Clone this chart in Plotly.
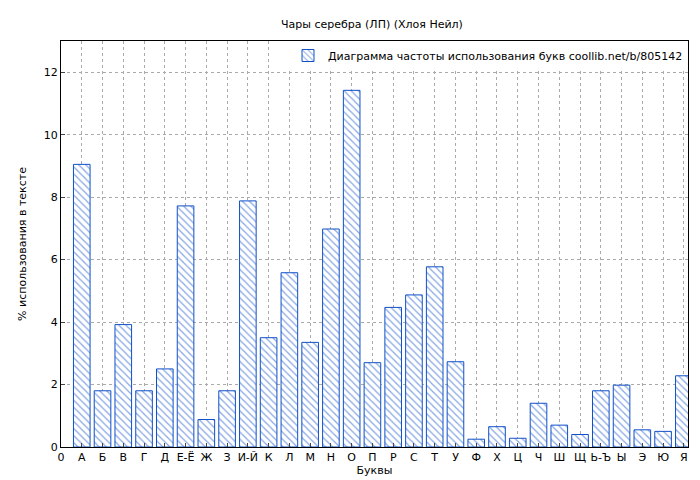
import plotly.graph_objects as go

letters = ["А","Б","В","Г","Д","Е-Ё","Ж","З","И-Й","К","Л","М","Н","О","П","Р","С","Т","У","Ф","Х","Ц","Ч","Ш","Щ","Ь-Ъ","Ы","Э","Ю","Я"]
values = [9.05,1.8,3.92,1.8,2.5,7.72,0.88,1.8,7.88,3.5,5.58,3.35,6.98,11.42,2.7,4.47,4.87,5.77,2.73,0.25,0.65,0.28,1.4,0.7,0.4,1.8,1.98,0.55,0.5,2.28]
positions = list(range(1, len(letters)+1))
tick_vals = [0] + positions
tick_text = ["0"] + letters

fig = go.Figure(go.Bar(
    x=positions, y=values, width=0.8,
    name="Диаграмма частоты использования букв coollib.net/b/805142",
    marker=dict(color="white", line=dict(color="#1050c8", width=1),
                pattern=dict(shape="\\", fgcolor="#1050c8", bgcolor="white", size=5, solidity=0.25)),
))
fig.update_layout(
    width=700, height=480, paper_bgcolor="white", plot_bgcolor="white",
    margin=dict(l=53, r=20, t=33, b=41, autoexpand=False),
    font=dict(family="DejaVu Sans", size=11, color="black"),
    title=dict(text="Чары серебра (ЛП) (Хлоя Нейл)", x=0.52, y=0.975, xanchor="center", font=dict(size=11)),
    showlegend=True,
    legend=dict(x=1, y=1, xanchor="right", yanchor="top", bgcolor="white", itemwidth=30,
                font=dict(size=11)),
    xaxis=dict(range=[0, 30.2], tickvals=tick_vals, ticktext=tick_text, showgrid=True,
               gridcolor="#aaa", griddash="dot", showline=True, linecolor="black", mirror=True,
               ticks="inside", ticklen=4, automargin=False,
               title=dict(text="Буквы", standoff=2, font=dict(size=11))),
    yaxis=dict(range=[0, 13], dtick=2, showgrid=True, gridcolor="#aaa", griddash="dot",
               showline=True, linecolor="black", mirror=True, ticks="inside", ticklen=4,
               automargin=False, zeroline=False,
               title=dict(text="% использования в тексте", standoff=14, font=dict(size=11))),
)
fig.update_xaxes(zeroline=False)
fig.write_html("out.html")
